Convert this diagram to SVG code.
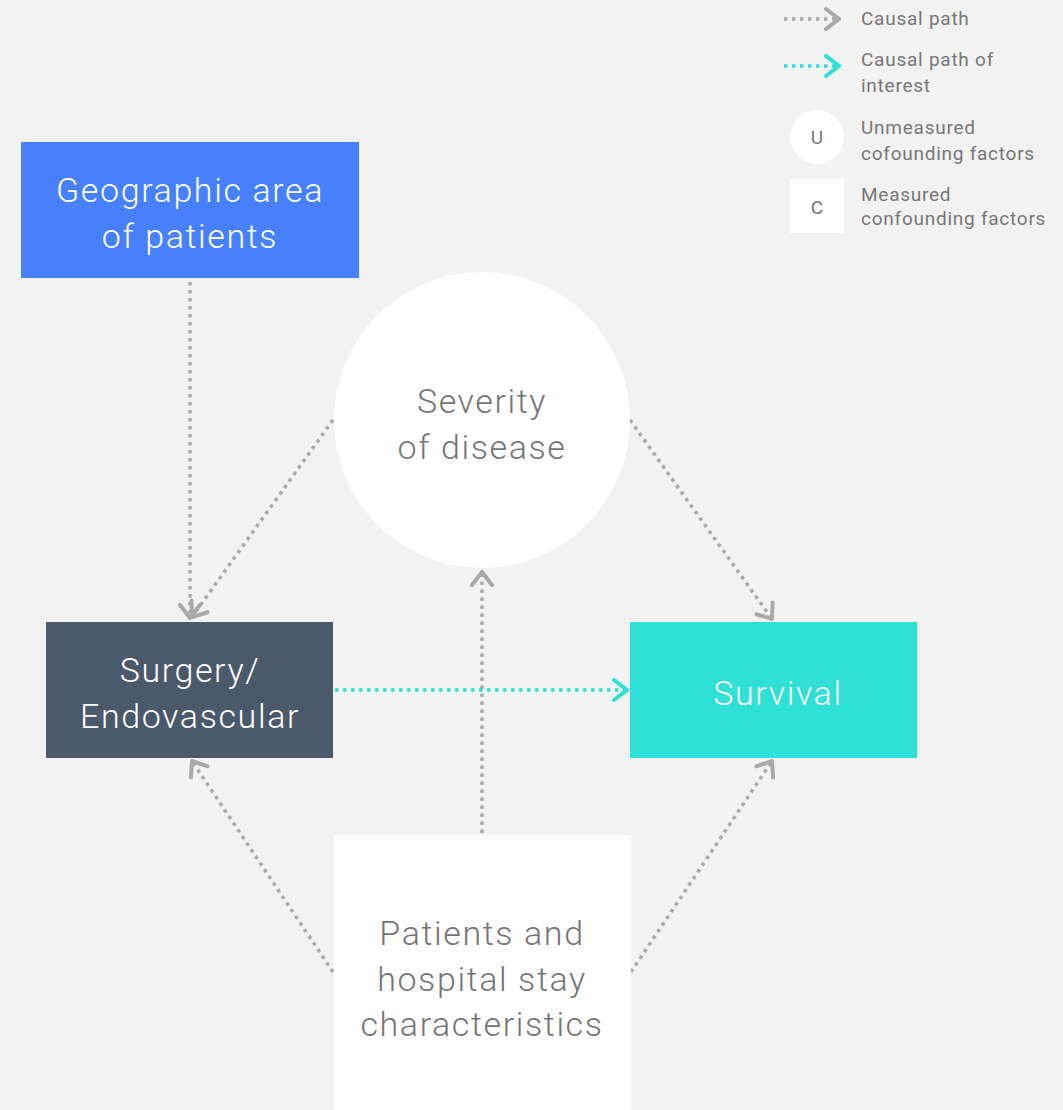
<svg xmlns="http://www.w3.org/2000/svg" width="1063" height="1110" viewBox="0 0 1063 1110">
  <style>
    .lbl { font-family: Roboto, "Liberation Sans", sans-serif; font-weight: 300; text-anchor: middle; }
    .big { font-size: 34px; letter-spacing: 1.6px; }
    .light { fill: #ffffff; }
    .dark { fill: #757575; }
    .leg { font-family: Roboto, "Liberation Sans", sans-serif; font-size: 19px; letter-spacing: 0.75px; fill: #777777; }
    .key { font-family: Roboto, "Liberation Sans", sans-serif; font-size: 19px; fill: #777777; text-anchor: middle; }
    .path { fill: none; stroke: #a9a9a9; stroke-width: 3.5; stroke-dasharray: 3.5 4.5; }
    .interest { fill: none; stroke: #2ee0d5; stroke-width: 3.5; stroke-dasharray: 3.5 4.5; }
  </style>
  <defs>
    <marker id="chev-gray" viewBox="-16 -12 18 24" refX="0" refY="0" markerWidth="18" markerHeight="24" markerUnits="userSpaceOnUse" orient="auto">
      <path d="M-13,-10 L0,0 L-13,10" fill="none" stroke="#a9a9a9" stroke-width="4" stroke-linecap="round" stroke-linejoin="miter"/>
    </marker>
    <marker id="chev-cyan" viewBox="-16 -12 18 24" refX="0" refY="0" markerWidth="18" markerHeight="24" markerUnits="userSpaceOnUse" orient="auto">
      <path d="M-13,-10 L0,0 L-13,10" fill="none" stroke="#2ee0d5" stroke-width="4" stroke-linecap="round" stroke-linejoin="miter"/>
    </marker>
  </defs>

  <rect x="0" y="0" width="1063" height="1110" fill="#f2f2f2"/>

  <!-- connectors -->
  <g id="connectors">
    <line class="path" x1="190" y1="282" x2="190" y2="618" marker-end="url(#chev-gray)"/>
    <line class="path" x1="333" y1="420" x2="192" y2="617" marker-end="url(#chev-gray)"/>
    <line class="path" x1="630" y1="420" x2="772" y2="619" marker-end="url(#chev-gray)"/>
    <line class="path" x1="482" y1="833" x2="482" y2="572" marker-end="url(#chev-gray)"/>
    <line class="path" x1="333" y1="972" x2="192" y2="761" marker-end="url(#chev-gray)"/>
    <line class="path" x1="631" y1="972" x2="772" y2="761" marker-end="url(#chev-gray)"/>
    <line class="interest" x1="335" y1="690" x2="627" y2="690" marker-end="url(#chev-cyan)"/>
  </g>

  <!-- nodes -->
  <g id="geographic-area">
    <rect x="21" y="142" width="338" height="136" fill="#4680fd"/>
    <text class="lbl big light" x="190" y="202">Geographic area</text>
    <text class="lbl big light" x="190" y="248">of patients</text>
  </g>

  <g id="severity">
    <circle cx="482" cy="420" r="148" fill="#ffffff"/>
    <text class="lbl big dark" x="482" y="413">Severity</text>
    <text class="lbl big dark" x="482" y="459">of disease</text>
  </g>

  <g id="surgery">
    <rect x="46" y="622" width="287" height="136" fill="#4b5a6b"/>
    <text class="lbl big light" x="190" y="682">Surgery/</text>
    <text class="lbl big light" x="190" y="728">Endovascular</text>
  </g>

  <g id="survival">
    <rect x="630" y="622" width="287" height="136" fill="#2ee0d5"/>
    <text class="lbl big light" x="778" y="705">Survival</text>
  </g>

  <g id="patients">
    <rect x="334" y="835" width="297" height="275" fill="#ffffff"/>
    <text class="lbl big dark" x="482" y="945">Patients and</text>
    <text class="lbl big dark" x="482" y="991">hospital stay</text>
    <text class="lbl big dark" x="482" y="1036">characteristics</text>
  </g>

  <!-- legend -->
  <g id="legend">
    <line class="path" x1="784" y1="19" x2="839" y2="19" marker-end="url(#chev-gray)"/>
    <text class="leg" x="861" y="25">Causal path</text>
    <line class="interest" x1="784" y1="66" x2="839" y2="66" marker-end="url(#chev-cyan)"/>
    <text class="leg" x="861" y="66">Causal path of</text>
    <text class="leg" x="861" y="92">interest</text>
    <circle cx="817" cy="137" r="27" fill="#ffffff"/>
    <text class="key" x="817" y="144">U</text>
    <text class="leg" x="861" y="134">Unmeasured</text>
    <text class="leg" x="861" y="160">cofounding factors</text>
    <rect x="790" y="179" width="54" height="54" fill="#ffffff"/>
    <text class="key" x="817" y="214">C</text>
    <text class="leg" x="861" y="201">Measured</text>
    <text class="leg" x="861" y="225">confounding factors</text>
  </g>
</svg>
